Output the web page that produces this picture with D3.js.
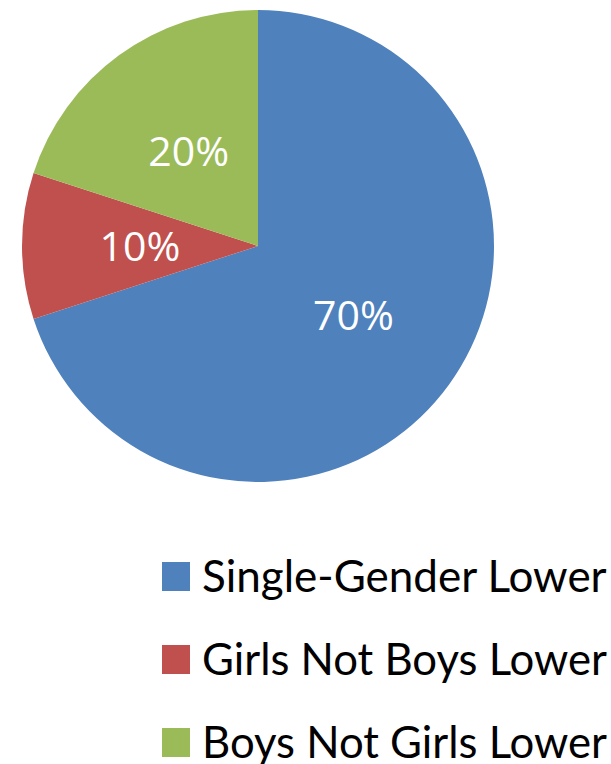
<!DOCTYPE html>
<html>
<head>
<meta charset="utf-8">
<script src="https://cdn.jsdelivr.net/npm/d3@7"></script>
<style>
  body { margin: 0; background: #fff; overflow: hidden; }
  text { font-family: Lato, "Open Sans", sans-serif; }
</style>
</head>
<body>
<svg id="chart" width="611" height="764"></svg>
<script>
var categories = ["Single-Gender Lower", "Girls Not Boys Lower", "Boys Not Girls Lower"]
var values = [70, 10, 20]
var colors = ["#4F81BD", "#C0504D", "#9BBB59"]

var svg = d3.select("#chart")
var cx = 258, cy = 246, radius = 236

var pie = d3.pie().sort(null).value(function (d) { return d })
var arcs = pie(values)
var arc = d3.arc().innerRadius(0).outerRadius(radius)
var labelArc = d3.arc().innerRadius(radius * 0.5).outerRadius(radius * 0.5)

var g = svg.append("g").attr("transform", "translate(" + cx + "," + cy + ")")

g.selectAll("path")
  .data(arcs)
  .enter().append("path")
  .attr("d", arc)
  .attr("fill", function (d, i) { return colors[i] })

g.selectAll("text.pct")
  .data(arcs)
  .enter().append("text")
  .attr("class", "pct")
  .attr("transform", function (d) {
    var c = labelArc.centroid(d)
    return "translate(" + c[0] + "," + (c[1] + 15) + ")"
  })
  .style("text-anchor", "middle")
  .style("font-family", "'Open Sans', sans-serif")
  .style("font-size", "41px")
  .attr("fill", "#fff")
  .text(function (d) { return d.data + "%" })

// legend
var legend = svg.append("g").attr("transform", "translate(162,562)")
var rowH = 83

var rows = legend.selectAll("g.row")
  .data(categories)
  .enter().append("g")
  .attr("class", "row")
  .attr("transform", function (d, i) { return "translate(0," + (i * rowH) + ")" })

rows.append("rect")
  .attr("width", 28)
  .attr("height", 29)
  .attr("fill", function (d, i) { return colors[i] })

rows.append("text")
  .attr("x", 40)
  .attr("y", 30)
  .style("font-size", "44px")
  .attr("fill", "#000")
  .text(function (d) { return d })
  .each(function () {
    // keep the longest label inside the page
    var w = this.getComputedTextLength()
    if (w > 405) d3.select(this).style("font-size", (44 * 405 / w) + "px")
  })
</script>
</body>
</html>
